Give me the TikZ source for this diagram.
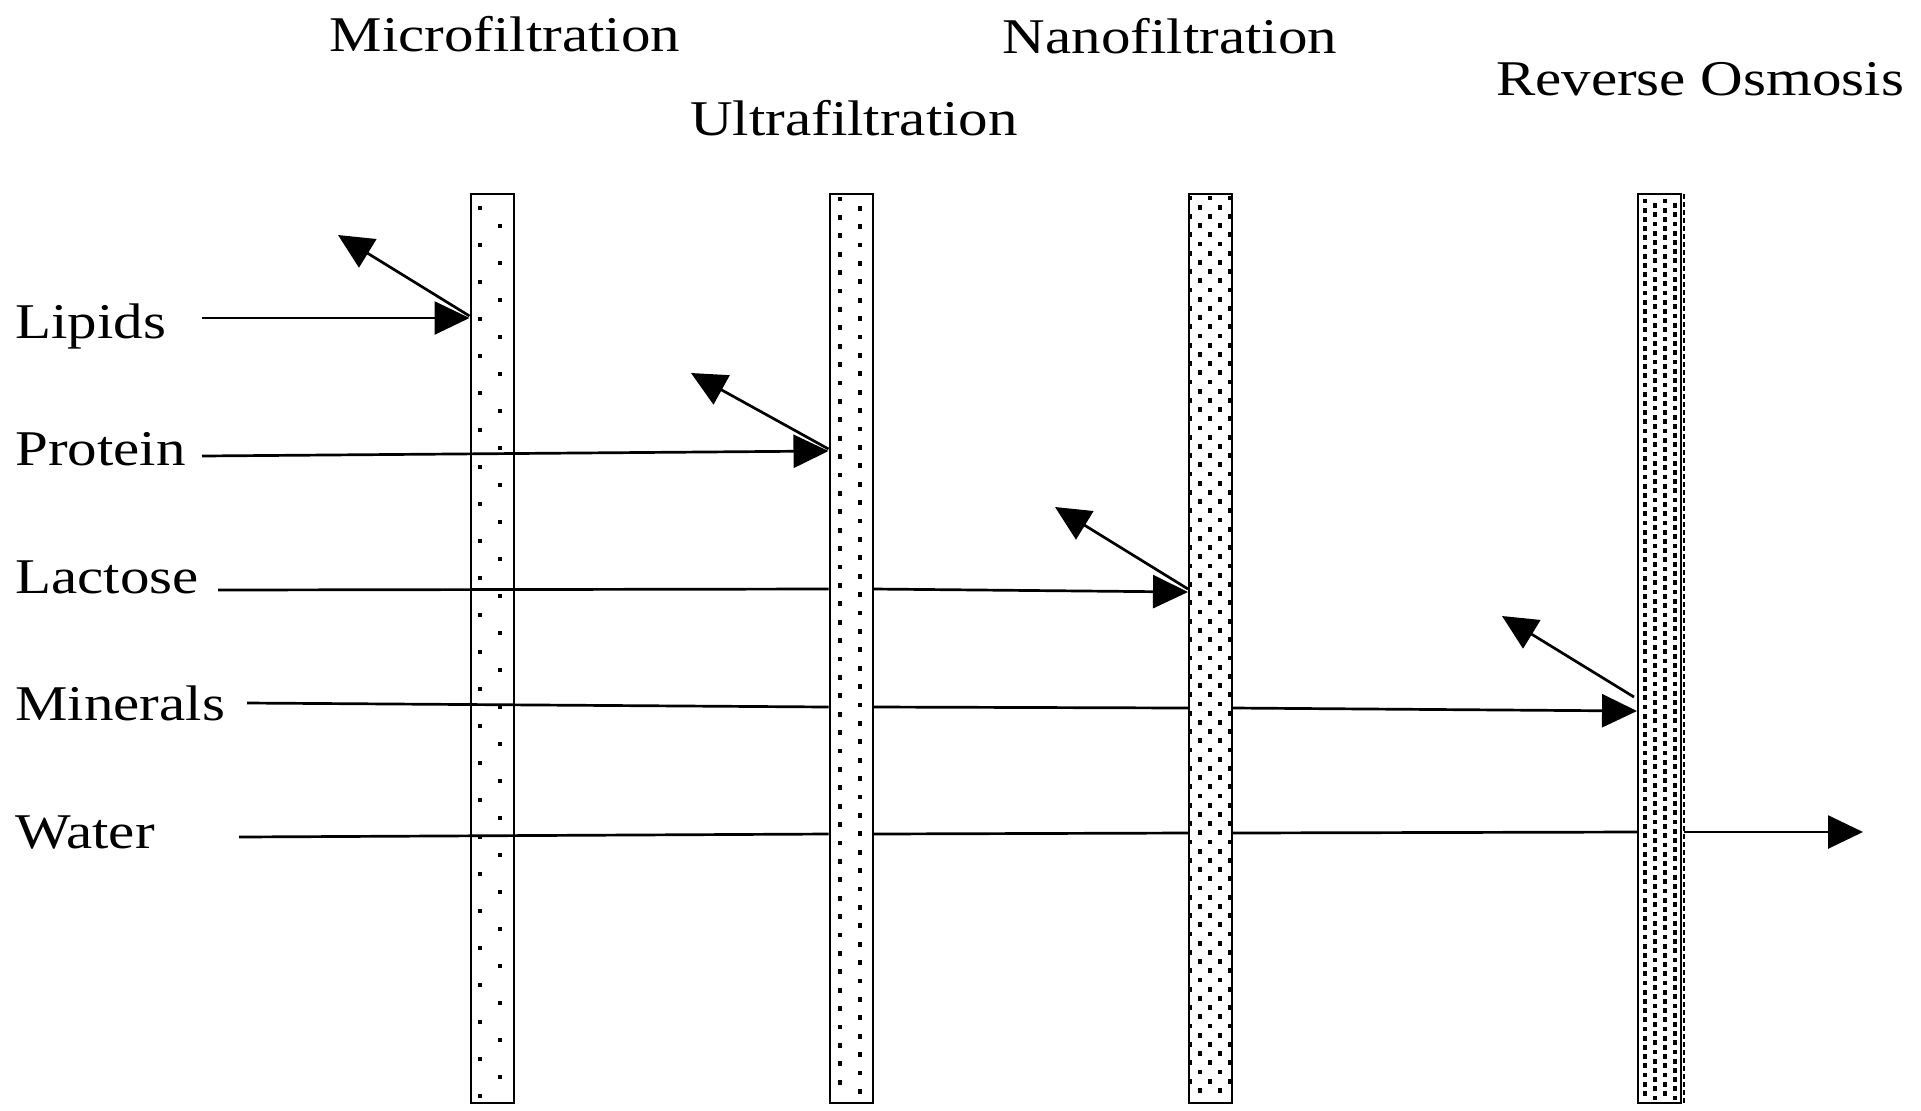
\documentclass[tikz,border=0pt]{standalone}
\usepackage{fontspec}
\usepackage{graphicx}
\setmainfont{Liberation Serif}
\usetikzlibrary{arrows.meta}

% one unit = one pixel of the 1921 x 1110 canvas, y grows downwards
\tikzset{
  x=0.5pt, y=-0.5pt,
  membrane/.style={draw, line width=1pt, fill=white, inner sep=0pt,
                   minimum width=21.5pt, minimum height=454.5pt},
  flow/.style={line width=1.35pt, -{Triangle[length=17.5pt,width=16.5pt]}},
  plain/.style={line width=1.35pt},
  lbl/.style={inner sep=0pt, font=\fontsize{25pt}{30pt}\selectfont},
}
\newcommand\widetext[1]{\scalebox{1.18}[1]{#1}}
\newcommand\memdot[2]{\fill ({#1-2.4},{#2-2.4}) rectangle ({#1+2.4},{#2+2.4});}

\begin{document}
\begin{tikzpicture}
\useasboundingbox (0,0) rectangle (1921,1110);

% ---- membranes ----
\node[membrane] (mf) at (492,648.5) {};
\node[membrane] (uf) at (851,648.5) {};
\node[membrane] (nf) at (1210.5,648.5) {};
\node[membrane] (ro) at (1659.5,648.5) {};
\draw[line width=0.6pt, dash pattern=on 2.5pt off 1.5pt] (1684,194) -- (1684,1103);

% pore dots: coarser to finer
\foreach \i in {0,...,24} {\memdot{480}{208+37*\i}}
\foreach \i in {0,...,23} {\memdot{500}{226+37*\i}}
\foreach \i in {0,...,48} {\memdot{840}{199+18.4*\i}\memdot{860}{208.2+18.4*\i}}
\foreach \i in {0,...,48} {
  \memdot{1190}{198+18.4*\i}\memdot{1210}{198+18.4*\i}\memdot{1230}{198+18.4*\i}
  \memdot{1200}{207.2+18.4*\i}\memdot{1220}{207.2+18.4*\i}}
\foreach \i in {0,...,97} {
  \memdot{1645}{201+9.2*\i}\memdot{1665}{201+9.2*\i}
  \memdot{1655}{205.6+9.2*\i}\memdot{1675}{205.6+9.2*\i}}

% ---- process names ----
\node[lbl, anchor=base] (tmf) at (505,51)  {\widetext{Microfiltration}};
\node[lbl, anchor=base] (tuf) at (854,135) {\widetext{Ultrafiltration}};
\node[lbl, anchor=base] (tnf) at (1170,53) {\widetext{Nanofiltration}};
\node[lbl, anchor=base] (tro) at (1700,95) {\widetext{Reverse Osmosis}};

% ---- components ----
\node[lbl, anchor=base west] (lip) at (15,338)   {\widetext{Lipids}};
\node[lbl, anchor=base west] (pro) at (15,465.5) {\widetext{Protein}};
\node[lbl, anchor=base west] (lac) at (15,593)   {\widetext{Lactose}};
\node[lbl, anchor=base west] (min) at (15,720)   {\widetext{Minerals}};
\node[lbl, anchor=base west] (wat) at (15,848)   {\widetext{Water}};

% line start points and retained-fraction ends
\coordinate (lipS) at (202,318);
\coordinate (proS) at (202,456);
\coordinate (lacS) at (218,590);
\coordinate (minS) at (247,703);
\coordinate (watS) at (239,837);
\coordinate (lipR) at (338,235);
\coordinate (proR) at (691,373);
\coordinate (lacR) at (1055,507);
\coordinate (minR) at (1502,616);
\coordinate (watE) at (1863,832);

% Lipids: held back by microfiltration
\draw[flow] (lipS) -- (lipS -| mf.west);
\draw[flow] ([yshift=1pt]lipS -| mf.west) -- (lipR);

% Protein: passes MF, held back by UF
\draw[flow] (proS) -- (uf.west |- 0,451);
\draw[flow] (uf.west |- 0,449) -- (proR);

% Lactose: passes MF and UF, held back by NF
\draw[plain] (lacS) -- (uf.west |- 0,589);
\draw[flow] (uf.east |- 0,589) -- (nf.west |- 0,592);
\draw[flow] (nf.west |- 0,589) -- (lacR);

% Minerals: held back by reverse osmosis
\draw[plain] (minS) -- (uf.west |- 0,707);
\draw[plain] (uf.east |- 0,707) -- (nf.west |- 0,708);
\draw[flow] (nf.east |- 0,708) -- (ro.west |- 0,711);
\draw[flow] (1634,697) -- (minR);

% Water: passes every membrane
\draw[plain] (watS) -- (uf.west |- 0,834);
\draw[plain] (uf.east |- 0,834) -- (nf.west |- 0,833);
\draw[plain] (nf.east |- 0,833) -- (ro.west |- 0,832);
\draw[flow] (1684,832) -- (watE);
\end{tikzpicture}
\end{document}
